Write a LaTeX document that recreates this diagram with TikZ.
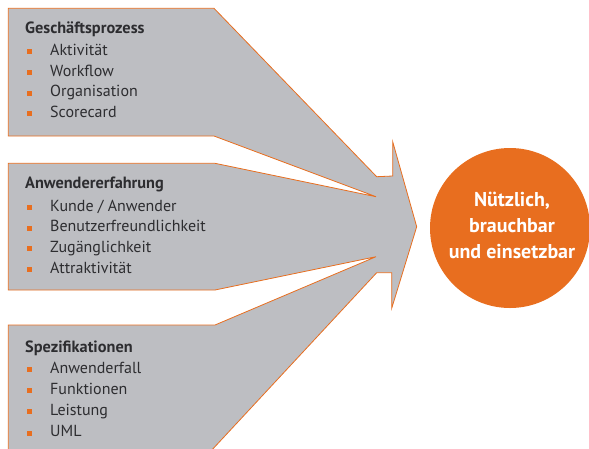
\documentclass[tikz,border=0pt]{standalone}
\usepackage{fontspec}
\setmainfont{PT Sans}
\definecolor{oran}{RGB}{232,110,31}
\definecolor{graybox}{RGB}{189,190,194}
\definecolor{txt}{RGB}{45,45,48}
\begin{document}
\begin{tikzpicture}[x=1pt,y=-1pt,
  head/.style={anchor=base west,inner sep=0pt,font=\fontsize{16.3}{18}\selectfont\bfseries,text=txt},
  item/.style={anchor=base west,inner sep=0pt,font=\fontsize{16}{18}\selectfont,text=txt},
  bul/.style={fill=oran},
  res/.style={circle,fill=oran,minimum size=160pt,inner sep=0pt},
  restext/.style={anchor=base,inner sep=0pt,text=white,font=\fontsize{20}{26}\selectfont\bfseries}]
\useasboundingbox (0,0) rectangle (589,448);
\begin{scope}
\clip (0,0) rectangle (589,448);
\draw[oran,fill=graybox,line width=0.8pt,line join=miter]
  (8.3,8.3) -- (214,8.3) -- (376.7,176.7) -- (392.7,176) -- (392.7,141.7)
  -- (416.7,226.7) -- (391.7,308.3) -- (391.7,272.7) -- (376.7,272.7)
  -- (210,452) -- (8.3,452) -- (8.3,325) -- (215,325) -- (376,256.7)
  -- (215,290) -- (8.3,290) -- (8.3,163.3) -- (215,163.3) -- (376,196.7)
  -- (214,136) -- (8.3,136) -- cycle;
\node[res] (goal) at (510,228) {};
\end{scope}
\node[restext] (g1) at (512,206.7) {Nützlich,};
\node[restext] (g2) at (512,232.7) {brauchbar};
\node[restext] (g3) at (512,258.3) {und einsetzbar};
% top box
\node[head] (h1) at (25,33.3) {Geschäftsprozess};
\foreach \t/\y/\n in {Aktivität/55/a,Workflow/76/b,Organisation/96.7/c,Scorecard/117.3/d}{
  \node[item] (p\n) at (50,\y) {\t};
  \fill[bul] (26.5,\y-6.2) rectangle ++(5,5);
}
% middle box
\node[head] (h2) at (25,188.3) {Anwendererfahrung};
\foreach \t/\y/\n in {{Kunde / Anwender}/211/a,Benutzerfreundlichkeit/231.7/b,Zugänglichkeit/252.3/c,Attraktivität/273.3/d}{
  \node[item] (u\n) at (50,\y) {\t};
  \fill[bul] (26.5,\y-6.2) rectangle ++(5,5);
}
% bottom box
\node[head] (h3) at (25,352.3) {Spezifikationen};
\foreach \t/\y/\n in {Anwenderfall/373.3/a,Funktionen/394.3/b,Leistung/415/c,UML/436.7/d}{
  \node[item] (s\n) at (50,\y) {\t};
  \fill[bul] (26.5,\y-6.2) rectangle ++(5,5);
}
\end{tikzpicture}
\end{document}
